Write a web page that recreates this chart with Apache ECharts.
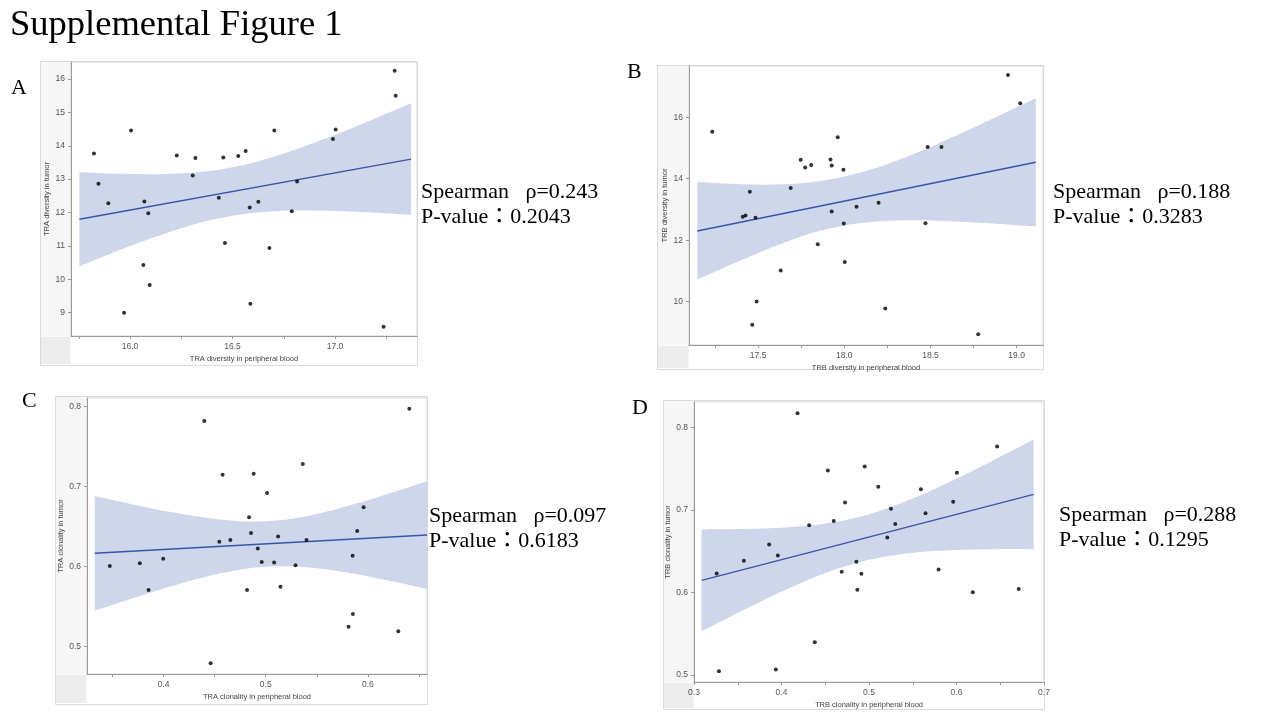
<!DOCTYPE html>
<html>
<head>
    <meta charset="utf-8">
    <title>Supplemental Figure 1</title>
    <script src="https://cdn.jsdelivr.net/npm/echarts@6.0.0/dist/echarts.min.js"></script>
    <style>
        html, body { margin: 0; padding: 0; background: #fff; }
        #main { width: 1280px; height: 720px; }
    </style>
</head>
<body>
<div id="main"></div>
<script type="text/javascript">
    // ---- A: TRA diversity ----
    var aBloodX = [15.824, 15.846, 15.894, 16.005, 15.971, 16.070, 16.089, 16.065, 16.096, 16.228, 16.319, 16.306, 16.433, 16.455, 16.463,
        16.528, 16.564, 16.584, 16.587, 16.626, 16.704, 16.680, 16.789, 16.815, 16.990, 17.003, 17.291, 17.296, 17.237];
    var aTumorY = [13.77, 12.86, 12.28, 14.46, 9.00, 12.33, 11.98, 10.43, 9.83, 13.71, 13.63, 13.11, 12.44, 13.65, 11.09,
        13.69, 13.84, 12.15, 9.27, 12.32, 14.46, 10.94, 12.04, 12.93, 14.20, 14.49, 16.25, 15.50, 8.58];
    var aFitX = [15.753, 17.371];
    var aFitY = [11.80, 13.60];
    var aBandX = [15.753, 15.95, 16.15, 16.35, 16.55, 16.75, 16.95, 17.15, 17.371];
    var aBandUpper = [13.21, 13.16, 13.15, 13.22, 13.42, 13.77, 14.21, 14.70, 15.27];
    var aBandLower = [10.39, 10.88, 11.33, 11.71, 11.95, 12.05, 12.05, 12.01, 11.93];
    var aXTicks = ['16.0', '16.5', '17.0'];
    var aXMinor = [15.75, 16.25, 16.75, 17.25];
    var aYTicks = ['9', '10', '11', '12', '13', '14', '15', '16'];

    // ---- B: TRB diversity ----
    var bBloodX = [17.234, 17.411, 17.427, 17.452, 17.485, 17.491, 17.466, 17.631, 17.689, 17.747, 17.773, 17.808, 17.846, 17.920, 17.927,
        17.962, 17.927, 17.995, 17.997, 18.003, 18.071, 18.199, 18.238, 18.471, 18.484, 18.564, 18.777, 18.950, 19.021];
    var bTumorY = [15.53, 12.76, 12.80, 13.58, 12.73, 10.00, 9.25, 11.01, 13.70, 14.62, 14.37, 14.45, 11.87, 14.63, 14.43,
        15.35, 12.93, 14.29, 12.54, 11.29, 13.09, 13.22, 9.78, 12.55, 15.03, 15.03, 8.94, 17.38, 16.46];
    var bFitX = [17.147, 19.111];
    var bFitY = [12.30, 14.535];
    var bBandX = [17.147, 17.40, 17.65, 17.90, 18.15, 18.40, 18.65, 18.90, 19.111];
    var bBandUpper = [13.89, 13.82, 13.82, 13.96, 14.29, 14.80, 15.41, 16.06, 16.62];
    var bBandLower = [10.72, 11.35, 11.92, 12.36, 12.59, 12.65, 12.61, 12.53, 12.45];
    var bXTicks = ['17.5', '18.0', '18.5', '19.0'];
    var bXMinor = [17.25, 17.75, 18.25, 18.75];
    var bYTicks = ['10', '12', '14', '16'];

    // ---- C: TRA clonality ----
    var cBloodX = [0.3474, 0.3768, 0.3853, 0.3997, 0.4399, 0.4461, 0.4546, 0.4578, 0.4654, 0.4817, 0.4837, 0.4856, 0.4882, 0.4922, 0.4961,
        0.5013, 0.5082, 0.5121, 0.5144, 0.5291, 0.5363, 0.5399, 0.5810, 0.5850, 0.5853, 0.5895, 0.5958, 0.6297, 0.6405];
    var cTumorY = [0.6008, 0.6042, 0.5708, 0.6100, 0.7821, 0.4792, 0.6313, 0.7150, 0.6333, 0.5708, 0.6617, 0.6421, 0.7163, 0.6229, 0.6058,
        0.6921, 0.6054, 0.6379, 0.5750, 0.6017, 0.7283, 0.6333, 0.5250, 0.6138, 0.5408, 0.6446, 0.6742, 0.5192, 0.7975];
    var cFitX = [0.3327, 0.6578];
    var cFitY = [0.6167, 0.6396];
    var cBandX = [0.3327, 0.37, 0.41, 0.45, 0.49, 0.53, 0.57, 0.61, 0.6578];
    var cBandUpper = [0.6884, 0.6779, 0.6677, 0.6598, 0.6565, 0.6610, 0.6723, 0.6870, 0.7067];
    var cBandLower = [0.5450, 0.5607, 0.5765, 0.5902, 0.5991, 0.6002, 0.5945, 0.5854, 0.5725];
    var cXTicks = ['0.4', '0.5', '0.6'];
    var cXMinor = [0.35, 0.45, 0.55, 0.65];
    var cYTicks = ['0.5', '0.6', '0.7', '0.8'];

    // ---- D: TRB clonality ----
    var dBloodX = [0.3259, 0.3285, 0.3570, 0.3859, 0.3958, 0.3935, 0.4183, 0.4316, 0.4380, 0.4529, 0.4597, 0.4688, 0.4726, 0.4856, 0.4867,
        0.4913, 0.4951, 0.5106, 0.5209, 0.5251, 0.5300, 0.5593, 0.5646, 0.5795, 0.5962, 0.6004, 0.6186, 0.6464, 0.6711];
    var dTumorY = [0.6232, 0.5044, 0.6385, 0.6582, 0.6449, 0.5068, 0.8173, 0.6816, 0.5398, 0.7480, 0.6868, 0.6252, 0.7090, 0.6373, 0.6035,
        0.6228, 0.7529, 0.7283, 0.6667, 0.7017, 0.6832, 0.7251, 0.6961, 0.6280, 0.7102, 0.7452, 0.6002, 0.7770, 0.6043];
    var dFitX = [0.3087, 0.6882];
    var dFitY = [0.6147, 0.7190];
    var dBandX = [0.3087, 0.3561, 0.4036, 0.4510, 0.4985, 0.5459, 0.5933, 0.6408, 0.6882];
    var dBandUpper = [0.6764, 0.6769, 0.6788, 0.6836, 0.6944, 0.7121, 0.7346, 0.7595, 0.7854];
    var dBandLower = [0.5530, 0.5785, 0.6028, 0.6240, 0.6394, 0.6477, 0.6512, 0.6525, 0.6526];
    var dXTicks = ['0.3', '0.4', '0.5', '0.6', '0.7'];
    var dXMinor = [0.35, 0.45, 0.55, 0.65];
    var dYTicks = ['0.5', '0.6', '0.7', '0.8'];

    var spearmanRho = ['0.243', '0.188', '0.097', '0.288'];
    var pValues = ['0.2043', '0.3283', '0.6183', '0.1295'];

    // layout of each panel (pixels)
    var panels = [
        {letter: 'A', x: aBloodX, y: aTumorY, fitX: aFitX, fitY: aFitY, bandX: aBandX, up: aBandUpper, lo: aBandLower,
            xTicks: aXTicks, xMinor: aXMinor, yTicks: aYTicks, xName: 'TRA diversity in peripheral blood', yName: 'TRA diversity in tumor',
            grid: {left: 71, top: 62, width: 346, height: 274}, xr: [15.712, 17.400], yr: [8.302, 16.509], yGap: 20,
            frame: [40, 61, 377, 304], letterPos: [11, 88], statPos: [421, 192]},
        {letter: 'B', x: bBloodX, y: bTumorY, fitX: bFitX, fitY: bFitY, bandX: bBandX, up: bBandUpper, lo: bBandLower,
            xTicks: bXTicks, xMinor: bXMinor, yTicks: bYTicks, xName: 'TRB diversity in peripheral blood', yName: 'TRB diversity in tumor',
            grid: {left: 689, top: 66, width: 354, height: 279}, xr: [17.099, 19.153], yr: [8.588, 17.67], yGap: 20,
            frame: [657, 65, 386, 304], letterPos: [627, 72], statPos: [1053, 192]},
        {letter: 'C', x: cBloodX, y: cTumorY, fitX: cFitX, fitY: cFitY, bandX: cBandX, up: cBandUpper, lo: cBandLower,
            xTicks: cXTicks, xMinor: cXMinor, yTicks: cYTicks, xName: 'TRA clonality in peripheral blood', yName: 'TRA clonality in tumor',
            grid: {left: 87, top: 398, width: 340, height: 276}, xr: [0.3251, 0.6578], yr: [0.4659, 0.8109], yGap: 22,
            frame: [55, 396, 372, 308], letterPos: [22, 401], statPos: [429, 516]},
        {letter: 'D', x: dBloodX, y: dTumorY, fitX: dFitX, fitY: dFitY, bandX: dBandX, up: dBandUpper, lo: dBandLower,
            xTicks: dXTicks, xMinor: dXMinor, yTicks: dYTicks, xName: 'TRB clonality in peripheral blood', yName: 'TRB clonality in tumor',
            grid: {left: 694, top: 402, width: 350, height: 280}, xr: [0.3, 0.7], yr: [0.4915, 0.831], yGap: 22,
            frame: [663, 400, 381, 309], letterPos: [632, 408], statPos: [1059, 515]}
    ];

    var axisFont = '"Liberation Sans", Arial, sans-serif';
    var serif = '"Liberation Serif", "Times New Roman", "Noto Sans CJK JP", serif';

    function decimalsOf(s) {
        var i = s.indexOf('.');
        return i < 0 ? 0 : s.length - i - 1;
    }

    function zip(xs, ys) {
        return xs.map(function (v, i) { return [v, ys[i]]; });
    }

    // smooth path through pixel points (Catmull-Rom as cubic bezier)
    function curveTo(pts) {
        var d = '';
        for (var k = 0; k < pts.length - 1; k++) {
            var p0 = pts[Math.max(k - 1, 0)], p1 = pts[k], p2 = pts[k + 1], p3 = pts[Math.min(k + 2, pts.length - 1)];
            var c1 = [p1[0] + (p2[0] - p0[0]) / 6, p1[1] + (p2[1] - p0[1]) / 6];
            var c2 = [p2[0] - (p3[0] - p1[0]) / 6, p2[1] - (p3[1] - p1[1]) / 6];
            d += ' C' + c1[0] + ',' + c1[1] + ' ' + c2[0] + ',' + c2[1] + ' ' + p2[0] + ',' + p2[1];
        }
        return d;
    }

    function bandRenderer(p) {
        return function (params, api) {
            var up = p.bandX.map(function (x, k) { return api.coord([x, p.up[k]]); });
            var lo = p.bandX.map(function (x, k) { return api.coord([x, p.lo[k]]); }).reverse();
            var d = 'M' + up[0][0] + ',' + up[0][1] + curveTo(up) +
                ' L' + lo[0][0] + ',' + lo[0][1] + curveTo(lo) + ' Z';
            return {type: 'path', shape: {pathData: d}, style: {fill: '#cdd6ea', stroke: null}, silent: true};
        };
    }

    var grids = [], xAxes = [], yAxes = [], series = [], graphics = [];

    graphics.push({
        type: 'text', x: 10, y: 25,
        style: {text: 'Supplemental Figure 1', font: '36.5px ' + serif, fill: '#000', verticalAlign: 'middle'}
    });

    panels.forEach(function (p, i) {
        grids.push({
            left: p.grid.left, top: p.grid.top, width: p.grid.width, height: p.grid.height,
            containLabel: false, outerBoundsMode: 'none',
            show: true, borderColor: '#d6d6d6', borderWidth: 1, backgroundColor: '#fff'
        });

        var xDec = decimalsOf(p.xTicks[0]);
        var yDec = decimalsOf(p.yTicks[0]);
        var xMajor = p.xTicks.map(Number);
        var yMajor = p.yTicks.map(Number);

        xAxes.push({
            type: 'value', gridIndex: i, min: p.xr[0], max: p.xr[1], z: 10,
            name: p.xName, nameLocation: 'middle', nameGap: 19,
            nameTextStyle: {fontFamily: axisFont, fontSize: 7.5, color: '#444'},
            axisLine: {show: true, lineStyle: {color: '#9a9a9a', width: 1}},
            axisTick: {show: true, length: 3, customValues: xMajor.concat(p.xMinor), lineStyle: {color: '#9a9a9a'}},
            axisLabel: {
                customValues: xMajor, margin: 6, fontFamily: axisFont, fontSize: 8.5, color: '#555',
                formatter: function (v) { return Number(v).toFixed(xDec); }
            },
            splitLine: {show: false}
        });
        yAxes.push({
            type: 'value', gridIndex: i, min: p.yr[0], max: p.yr[1], z: 10,
            name: p.yName, nameLocation: 'middle', nameGap: p.yGap, nameRotate: 90,
            nameTextStyle: {fontFamily: axisFont, fontSize: 7.5, color: '#444'},
            axisLine: {show: true, lineStyle: {color: '#9a9a9a', width: 1}},
            axisTick: {show: true, length: 3, customValues: yMajor, lineStyle: {color: '#9a9a9a'}},
            axisLabel: {
                customValues: yMajor, margin: 6, fontFamily: axisFont, fontSize: 8.5, color: '#555',
                formatter: function (v) { return Number(v).toFixed(yDec); }
            },
            splitLine: {show: false}
        });

        // confidence band
        series.push({
            type: 'custom', coordinateSystem: 'cartesian2d', xAxisIndex: i, yAxisIndex: i, z: 1,
            silent: true, renderItem: bandRenderer(p), data: [[p.bandX[0], p.up[0]]]
        });
        // fit line
        series.push({
            type: 'line', xAxisIndex: i, yAxisIndex: i, symbol: 'none', silent: true, z: 3,
            lineStyle: {color: '#3b55a6', width: 1.5}, data: zip(p.fitX, p.fitY)
        });
        // points
        series.push({
            type: 'scatter', xAxisIndex: i, yAxisIndex: i, symbolSize: 4, z: 5,
            itemStyle: {color: '#000'}, data: zip(p.x, p.y)
        });

        // panel frame, y-axis strip and corner box
        var f = p.frame, g = p.grid;
        graphics.push({
            type: 'rect', z: -2,
            shape: {x: f[0] + 0.5, y: f[1] + 0.5, width: g.left - f[0], height: g.top + g.height - f[1]},
            style: {fill: '#f6f6f6', stroke: null}
        });
        graphics.push({
            type: 'rect', z: -2,
            shape: {x: f[0] + 0.5, y: g.top + g.height + 1, width: g.left - f[0] - 1, height: f[1] + f[3] - g.top - g.height - 2},
            style: {fill: '#ececec', stroke: null}
        });
        graphics.push({
            type: 'rect', z: -1,
            shape: {x: f[0] + 0.5, y: f[1] + 0.5, width: f[2], height: f[3]},
            style: {fill: 'none', stroke: '#dadada', lineWidth: 1}
        });

        graphics.push({
            type: 'text', x: p.letterPos[0], y: p.letterPos[1],
            style: {text: p.letter, font: '22px ' + serif, fill: '#000', verticalAlign: 'middle'}
        });
        graphics.push({
            type: 'text', x: p.statPos[0], y: p.statPos[1],
            style: {text: 'Spearman   \u03c1=' + spearmanRho[i], font: '22px ' + serif, fill: '#000', verticalAlign: 'middle'}
        });
        graphics.push({
            type: 'text', x: p.statPos[0], y: p.statPos[1] + 25.5,
            style: {text: 'P-value\uff1a' + pValues[i], font: '22px ' + serif, fill: '#000', verticalAlign: 'middle'}
        });
    });

    var myChart = echarts.init(document.getElementById('main'));
    var option = {
        backgroundColor: '#fff',
        animation: false,
        grid: grids,
        xAxis: xAxes,
        yAxis: yAxes,
        series: series,
        graphic: {elements: graphics}
    };
    myChart.setOption(option);
</script>
</body>
</html>
